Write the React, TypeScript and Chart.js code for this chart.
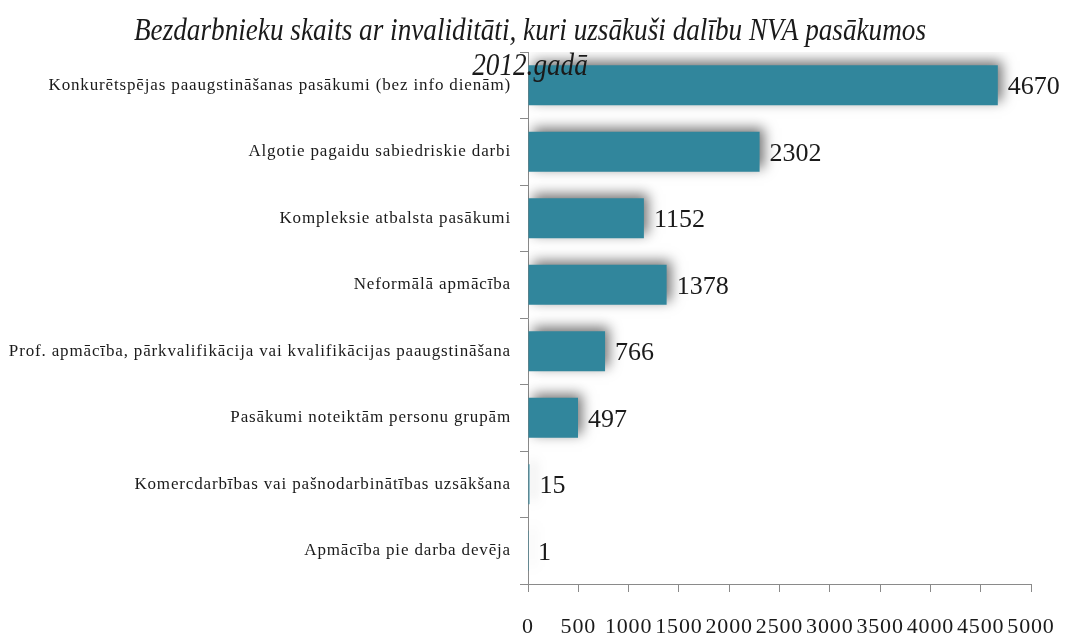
import React, { useEffect, useRef } from "react";
import { Chart, registerables } from "chart.js";

Chart.register(...registerables);

const categories: string[] = [
  "Konkurētspējas paaugstināšanas pasākumi (bez info dienām)",
  "Algotie pagaidu sabiedriskie darbi",
  "Kompleksie atbalsta pasākumi",
  "Neformālā apmācība",
  "Prof. apmācība, pārkvalifikācija vai kvalifikācijas paaugstināšana",
  "Pasākumi noteiktām personu grupām",
  "Komercdarbības vai pašnodarbinātības uzsākšana",
  "Apmācība pie darba devēja",
];
const values: number[] = [4670, 2302, 1152, 1378, 766, 497, 15, 1];
const titleLines: string[] = [
  "Bezdarbnieku skaits ar invaliditāti, kuri uzsākuši dalību NVA pasākumos",
  "2012.gadā",
];
const xMin = 0;
const xMax = 5000;
const xStep = 500;

const FONT = "'Liberation Serif', 'Times New Roman', serif";
const BAR_COLOR = "#31869c";

const spacingPlugin = {
  id: "letterSpacing",
  beforeDraw(chart: any) {
    const ctx = chart.ctx;
    ctx.save();
    (ctx as any).letterSpacing = "0.85px";
  },
  afterDraw(chart: any) {
    chart.ctx.restore();
  },
};

const shadowPlugin = {
  id: "barShadow",
  beforeDatasetsDraw(chart: any) {
    const ctx = chart.ctx;
    ctx.save();
    ctx.shadowColor = "rgba(0,0,0,0.55)";
    ctx.shadowBlur = 12;
    ctx.shadowOffsetX = 4;
    ctx.shadowOffsetY = -4;
  },
  afterDatasetsDraw(chart: any) {
    chart.ctx.restore();
  },
};

const labelPlugin = {
  id: "valueLabels",
  afterDatasetsDraw(chart: any) {
    const ctx = chart.ctx;
    const meta = chart.getDatasetMeta(0);
    ctx.save();
    (ctx as any).letterSpacing = "0px";
    ctx.fillStyle = "#1a1a1a";
    ctx.font = `26px ${FONT}`;
    ctx.textAlign = "left";
    ctx.textBaseline = "middle";
    meta.data.forEach((bar: any, i: number) => {
      const v = chart.data.datasets[0].data[i];
      ctx.fillText(String(v), bar.x + 10, bar.y + 2);
    });
    ctx.restore();
  },
};

const titlePlugin = {
  id: "customTitle",
  afterDraw(chart: any) {
    const ctx = chart.ctx;
    ctx.save();
    (ctx as any).letterSpacing = "0px";
    ctx.fillStyle = "#1a1a1a";
    ctx.font = `italic 32px ${FONT}`;
    ctx.textAlign = "center";
    ctx.textBaseline = "alphabetic";
    const baselines = [40, 75];
    titleLines.forEach((line, i) => {
      ctx.save();
      ctx.translate(530, baselines[i]);
      ctx.scale(0.85, 1);
      ctx.fillText(line, 0, 0);
      ctx.restore();
    });
    ctx.restore();
  },
};

export default function App() {
  const canvasRef = useRef<HTMLCanvasElement | null>(null);

  useEffect(() => {
    if (!canvasRef.current) return;
    const chart = new Chart(canvasRef.current, {
      type: "bar",
      data: {
        labels: categories,
        datasets: [
          {
            data: values,
            backgroundColor: BAR_COLOR,
            borderWidth: 0,
            categoryPercentage: 1,
            barPercentage: 0.6,
          },
        ],
      },
      options: {
        indexAxis: "y",
        animation: false,
        responsive: false,
        maintainAspectRatio: false,
        layout: { padding: { top: 52, right: 35, left: 0, bottom: 0 } },
        plugins: {
          legend: { display: false },
          title: { display: false },
          tooltip: { enabled: false },
        },
        scales: {
          x: {
            min: xMin,
            max: xMax,
            ticks: {
              stepSize: xStep,
              color: "#1a1a1a",
              font: { family: FONT, size: 22 },
              padding: 22,
              maxRotation: 0,
              autoSkip: false,
              callback: (v: any) => String(v),
            },
            grid: {
              drawOnChartArea: false,
              drawTicks: true,
              tickLength: 8,
              color: "#8a8a8a",
            },
            border: { display: true, color: "#8a8a8a" },
            afterFit(scale: any) {
              scale.height = 50;
              scale.paddingLeft = 0;
              scale.paddingRight = 0;
            },
          },
          y: {
            ticks: {
              color: "#1a1a1a",
              font: { family: FONT, size: 17 },
              padding: 9,
              autoSkip: false,
            },
            grid: {
              drawOnChartArea: false,
              drawTicks: true,
              tickLength: 8,
              color: "#8a8a8a",
              offset: true,
            },
            border: { display: true, color: "#8a8a8a" },
            afterFit(scale: any) {
              scale.width = 528;
              scale.paddingTop = 0;
              scale.paddingBottom = 0;
            },
          },
        },
      },
      plugins: [spacingPlugin, shadowPlugin, labelPlugin, titlePlugin],
    });
    return () => chart.destroy();
  }, []);

  return (
    <div style={{ position: "absolute", left: 0, top: 0, width: 1066, height: 634, background: "#fff" }}>
      <canvas ref={canvasRef} width={1066} height={634} style={{ display: "block" }} />
    </div>
  );
}
